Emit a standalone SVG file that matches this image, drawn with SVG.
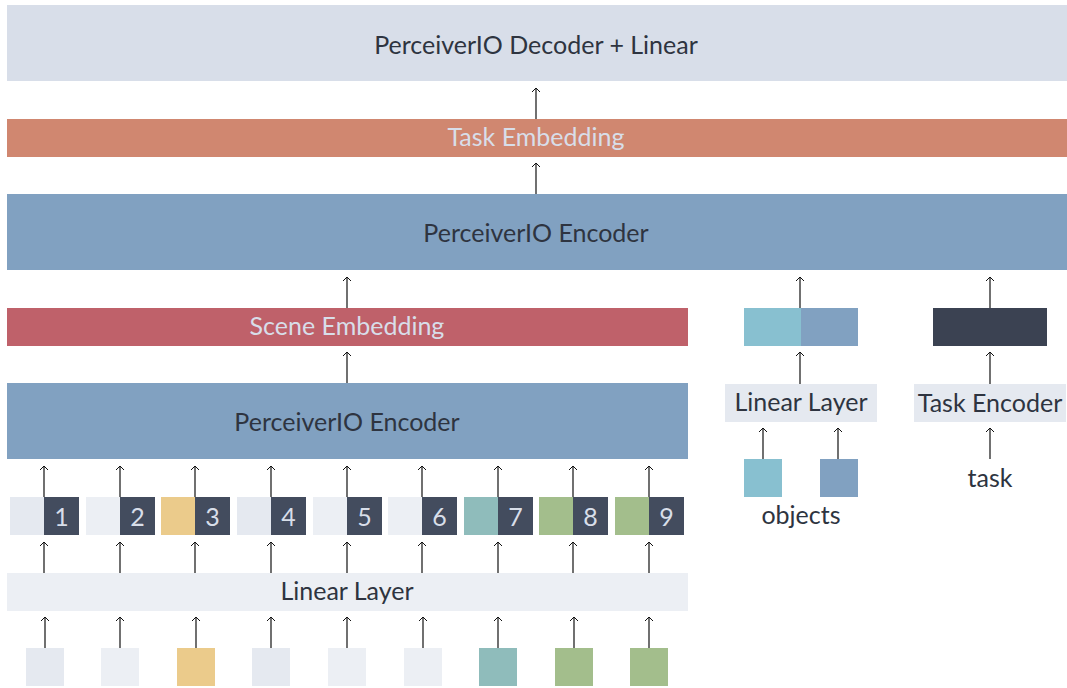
<svg xmlns="http://www.w3.org/2000/svg" width="1067" height="688" viewBox="0 0 1067 688">
  <defs>
    <marker id="head" markerUnits="userSpaceOnUse" markerWidth="12" markerHeight="12" viewBox="-6 -6 12 12" refX="0" refY="0" orient="auto">
      <path d="M-4,-4 L0,0 L-4,4" fill="none" stroke="#111" stroke-width="1"/>
    </marker>
    <style>
      text { font-family: Lato, "Open Sans", "Liberation Sans", sans-serif; font-size: 25px; text-anchor: middle; dominant-baseline: central; }
      .dark { fill: #2E3440; }
      .light { fill: #D8DEE9; }
      .arrow { stroke: #111; stroke-width: 1.2; fill: none; marker-end: url(#head); }
      .num { fill: #434C5E; }
      .snow0 { fill: #E5E9F0; }
      .snow1 { fill: #ECEFF4; }
      .yellow { fill: #EBCB8B; }
      .teal { fill: #8FBCBB; }
      .green { fill: #A3BE8C; }
    </style>
  </defs>

  <rect width="1067" height="688" fill="#fff"/>

  <!-- upper stack -->
  <g id="decoder">
    <rect x="7" y="5" width="1060" height="76" fill="#D8DEE9"/>
    <text class="dark" x="536" y="44">PerceiverIO Decoder + Linear</text>
  </g>
  <g id="task-embedding">
    <rect x="7" y="119" width="1060" height="38" fill="#D08770"/>
    <text class="light" x="536" y="136">Task Embedding</text>
  </g>
  <g id="encoder-top">
    <rect x="7" y="194" width="1060" height="76" fill="#81A1C1"/>
    <text class="dark" x="536" y="232">PerceiverIO Encoder</text>
  </g>

  <!-- scene branch -->
  <g id="scene-embedding">
    <rect x="7" y="308" width="681" height="38" fill="#BF616A"/>
    <text class="light" x="347" y="325">Scene Embedding</text>
  </g>
  <g id="encoder-scene">
    <rect x="7" y="383" width="681" height="76" fill="#81A1C1"/>
    <text class="dark" x="347" y="421">PerceiverIO Encoder</text>
  </g>

  <g id="tokens">
    <g id="token-1"><rect class="snow0" x="10" y="497" width="34" height="38"/><rect class="num" x="44" y="497" width="35" height="38"/><text class="light" x="61.5" y="516">1</text></g>
    <g id="token-2"><rect class="snow1" x="86" y="497" width="34" height="38"/><rect class="num" x="120" y="497" width="35" height="38"/><text class="light" x="137.5" y="516">2</text></g>
    <g id="token-3"><rect class="yellow" x="161" y="497" width="34" height="38"/><rect class="num" x="195" y="497" width="35" height="38"/><text class="light" x="212.5" y="516">3</text></g>
    <g id="token-4"><rect class="snow0" x="237" y="497" width="34" height="38"/><rect class="num" x="271" y="497" width="35" height="38"/><text class="light" x="288.5" y="516">4</text></g>
    <g id="token-5"><rect class="snow1" x="313" y="497" width="34" height="38"/><rect class="num" x="347" y="497" width="35" height="38"/><text class="light" x="364.5" y="516">5</text></g>
    <g id="token-6"><rect class="snow1" x="388" y="497" width="34" height="38"/><rect class="num" x="422" y="497" width="35" height="38"/><text class="light" x="439.5" y="516">6</text></g>
    <g id="token-7"><rect class="teal" x="464" y="497" width="34" height="38"/><rect class="num" x="498" y="497" width="35" height="38"/><text class="light" x="515.5" y="516">7</text></g>
    <g id="token-8"><rect class="green" x="539" y="497" width="34" height="38"/><rect class="num" x="573" y="497" width="35" height="38"/><text class="light" x="590.5" y="516">8</text></g>
    <g id="token-9"><rect class="green" x="615" y="497" width="34" height="38"/><rect class="num" x="649" y="497" width="35" height="38"/><text class="light" x="666.5" y="516">9</text></g>
  </g>

  <g id="linear-scene">
    <rect x="7" y="573" width="681" height="38" fill="#ECEFF4"/>
    <text class="dark" x="347" y="590">Linear Layer</text>
  </g>

  <g id="inputs">
    <rect id="in-1" class="snow0" x="26" y="648" width="38" height="38"/>
    <rect id="in-2" class="snow1" x="101" y="648" width="38" height="38"/>
    <rect id="in-3" class="yellow" x="177" y="648" width="38" height="38"/>
    <rect id="in-4" class="snow0" x="252" y="648" width="38" height="38"/>
    <rect id="in-5" class="snow1" x="328" y="648" width="38" height="38"/>
    <rect id="in-6" class="snow1" x="404" y="648" width="38" height="38"/>
    <rect id="in-7" class="teal" x="479" y="648" width="38" height="38"/>
    <rect id="in-8" class="green" x="555" y="648" width="38" height="38"/>
    <rect id="in-9" class="green" x="630" y="648" width="38" height="38"/>
  </g>

  <!-- object branch -->
  <g id="object-embedding">
    <rect x="744" y="308" width="57" height="38" fill="#88C0D0"/>
    <rect x="801" y="308" width="57" height="38" fill="#81A1C1"/>
  </g>
  <g id="linear-objects">
    <rect x="725" y="384" width="152" height="38" fill="#E5E9F0"/>
    <text class="dark" x="801" y="401">Linear Layer</text>
  </g>
  <g id="objects">
    <rect x="744" y="459" width="38" height="38" fill="#88C0D0"/>
    <rect x="820" y="459" width="38" height="38" fill="#81A1C1"/>
    <text class="dark" x="801" y="514">objects</text>
  </g>

  <!-- task branch -->
  <g id="task-vector">
    <rect x="933" y="308" width="114" height="38" fill="#3B4252"/>
  </g>
  <g id="task-encoder">
    <rect x="914" y="384" width="152" height="38" fill="#E5E9F0"/>
    <text class="dark" x="990" y="402">Task Encoder</text>
  </g>
  <g id="task">
    <text class="dark" x="990" y="477">task</text>
  </g>

  <!-- connectors -->
  <g id="connectors">
    <line class="arrow" x1="536" y1="119" x2="536" y2="88"/>
    <line class="arrow" x1="536" y1="194" x2="536" y2="163"/>
    <line class="arrow" x1="347" y1="308" x2="347" y2="277"/>
    <line class="arrow" x1="800" y1="308" x2="800" y2="277"/>
    <line class="arrow" x1="990" y1="308" x2="990" y2="277"/>
    <line class="arrow" x1="347" y1="383" x2="347" y2="352"/>
    <line class="arrow" x1="800" y1="384" x2="800" y2="352"/>
    <line class="arrow" x1="990" y1="384" x2="990" y2="352"/>
    <line class="arrow" x1="763" y1="459" x2="763" y2="428"/>
    <line class="arrow" x1="838" y1="459" x2="838" y2="428"/>
    <line class="arrow" x1="990" y1="459" x2="990" y2="428"/>

    <line class="arrow" x1="44" y1="497" x2="44" y2="466"/>
    <line class="arrow" x1="120" y1="497" x2="120" y2="466"/>
    <line class="arrow" x1="195" y1="497" x2="195" y2="466"/>
    <line class="arrow" x1="271" y1="497" x2="271" y2="466"/>
    <line class="arrow" x1="347" y1="497" x2="347" y2="466"/>
    <line class="arrow" x1="422" y1="497" x2="422" y2="466"/>
    <line class="arrow" x1="498" y1="497" x2="498" y2="466"/>
    <line class="arrow" x1="573" y1="497" x2="573" y2="466"/>
    <line class="arrow" x1="649" y1="497" x2="649" y2="466"/>

    <line class="arrow" x1="44" y1="573" x2="44" y2="542"/>
    <line class="arrow" x1="120" y1="573" x2="120" y2="542"/>
    <line class="arrow" x1="195" y1="573" x2="195" y2="542"/>
    <line class="arrow" x1="271" y1="573" x2="271" y2="542"/>
    <line class="arrow" x1="347" y1="573" x2="347" y2="542"/>
    <line class="arrow" x1="422" y1="573" x2="422" y2="542"/>
    <line class="arrow" x1="498" y1="573" x2="498" y2="542"/>
    <line class="arrow" x1="573" y1="573" x2="573" y2="542"/>
    <line class="arrow" x1="649" y1="573" x2="649" y2="542"/>

    <line class="arrow" x1="45" y1="648" x2="45" y2="617"/>
    <line class="arrow" x1="120" y1="648" x2="120" y2="617"/>
    <line class="arrow" x1="196" y1="648" x2="196" y2="617"/>
    <line class="arrow" x1="271" y1="648" x2="271" y2="617"/>
    <line class="arrow" x1="347" y1="648" x2="347" y2="617"/>
    <line class="arrow" x1="423" y1="648" x2="423" y2="617"/>
    <line class="arrow" x1="498" y1="648" x2="498" y2="617"/>
    <line class="arrow" x1="574" y1="648" x2="574" y2="617"/>
    <line class="arrow" x1="649" y1="648" x2="649" y2="617"/>
  </g>
</svg>
